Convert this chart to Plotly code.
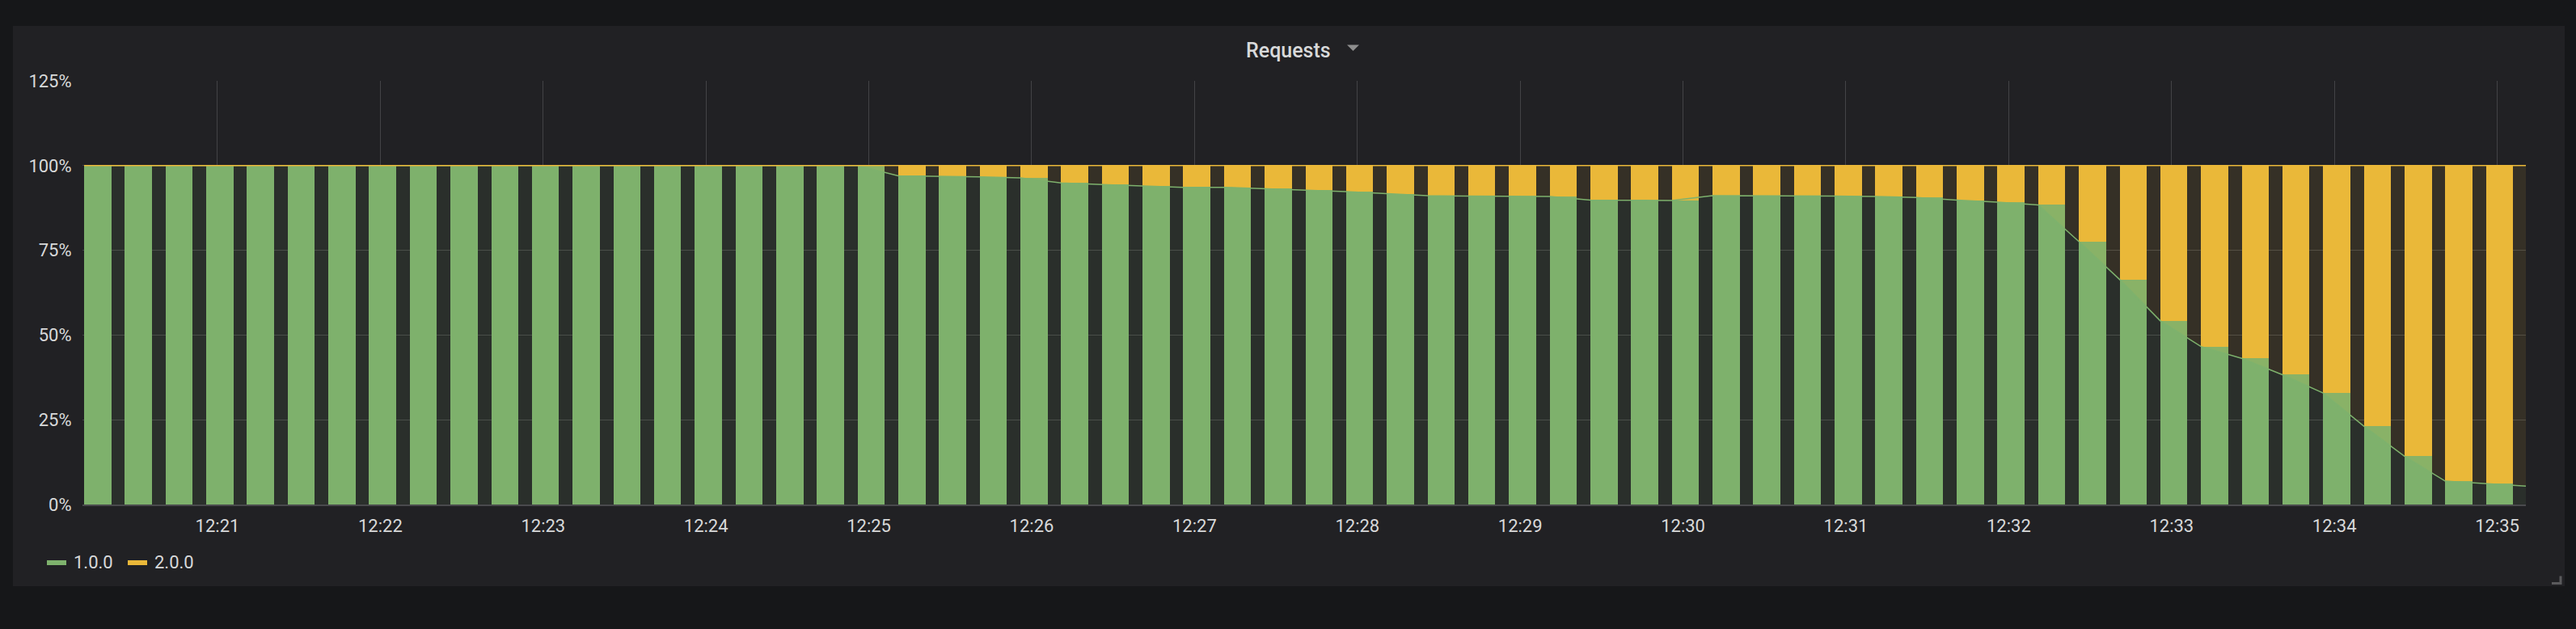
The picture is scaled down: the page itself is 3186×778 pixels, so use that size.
import pandas as pd
import plotly.graph_objects as go

# ---- data ----
series_names = ["1.0.0", "2.0.0"]
times = pd.date_range("2019-04-01 12:20:10.850", periods=61, freq="15s")
v1_0_0 = [100, 100, 100, 100, 100, 100, 100, 100, 100, 100,
          100, 100, 100, 100, 100, 100, 100, 100, 100, 100,
          97.0, 96.9, 96.7, 96.4, 94.9, 94.4, 94.0, 93.6, 93.6, 93.2,
          92.8, 92.3, 91.7, 91.1, 91.0, 91.0, 90.9, 89.8, 89.7, 89.7,
          91.1, 91.1, 91.1, 91.0, 90.9, 90.6, 89.8, 89.2, 88.4, 77.6,
          66.4, 54.2, 46.6, 43.1, 38.3, 32.9, 23.1, 14.2, 6.9, 6.2, 5.4]
v2_0_0 = [0, 0, 0, 0, 0, 0, 0, 0, 0, 0,
          0, 0, 0, 0, 0, 0, 0, 0, 0, 0,
          3.0, 3.1, 3.3, 3.6, 5.1, 5.6, 6.0, 6.4, 6.4, 6.8,
          7.2, 7.7, 8.3, 8.9, 9.0, 9.0, 9.1, 10.2, 10.3, 10.3,
          8.9, 8.9, 8.9, 9.0, 9.1, 9.4, 10.2, 10.8, 11.6, 22.4,
          33.6, 45.8, 53.4, 56.9, 61.7, 67.1, 76.9, 85.8, 93.1, 93.8, 94.6]
y_ticks = [0, 25, 50, 75, 100, 125]
y_tick_labels = ["0%", "25%", "50%", "75%", "100%", "125%"]
title_text = "Requests"

GREEN = "#7EB26D"
YELLOW = "#EAB839"
TEXT = "#d8d9da"
GRID = "#434346"

W, H = 3186, 778
ML, MR, MT, MB = 102, 62, 100, 154
PW, PH = W - ML - MR, H - MT - MB


def px(x):
    return (x - ML) / PW


def py(y):
    return (H - MB - y) / PH


fig = go.Figure()

# bars (stacked), left-aligned on each sample
for name, vals, col in [(series_names[0], v1_0_0, GREEN), (series_names[1], v2_0_0, YELLOW)]:
    fig.add_trace(go.Bar(
        x=times, y=vals, name=name, width=10000, offset=0,
        marker=dict(color=col, line=dict(width=0)),
        showlegend=False, hoverinfo="skip",
    ))

# stacked lines with light area fill (drawn over bars)
fills = {GREEN: "rgba(126,178,109,0.10)", YELLOW: "rgba(234,184,57,0.10)"}
for name, vals, col in [(series_names[0], v1_0_0, GREEN), (series_names[1], v2_0_0, YELLOW)]:
    fig.add_trace(go.Scatter(
        x=times, y=vals, name=name, mode="lines", stackgroup="one",
        line=dict(color=col, width=1.5), fillcolor=fills[col],
        showlegend=False, hoverinfo="skip",
    ))

shapes = []
# panel background
x0, x1, y0, y1 = px(16), px(3172), py(32), py(725)
shapes.append(dict(type="rect", xref="paper", yref="paper", x0=x0, x1=x1, y0=y0, y1=y1,
                   fillcolor="#212124", line=dict(width=0), layer="below"))
# dropdown triangle next to title
shapes.append(dict(type="path", xref="paper", yref="paper",
                   path=f"M {px(1666)},{py(55.5)} L {px(1681)},{py(55.5)} L {px(1673.5)},{py(63)} Z",
                   fillcolor="#8e8e8e", line=dict(width=0)))
# resize handle
shapes.append(dict(type="path", xref="paper", yref="paper",
                   path=f"M {px(3156)},{py(721.5)} L {px(3167)},{py(721.5)} L {px(3167)},{py(712.5)}",
                   line=dict(color="#5a5a5c", width=3)))
# legend swatches
for (lx, col) in [(58, GREEN), (158, YELLOW)]:
    shapes.append(dict(type="rect", xref="paper", yref="paper",
                       x0=px(lx), x1=px(lx + 24), y0=py(699), y1=py(693),
                       fillcolor=col, line=dict(width=0)))

annotations = [
    dict(text=title_text, xref="paper", yref="paper", x=px(1593), y=py(62),
         xanchor="center", yanchor="middle", showarrow=False,
         font=dict(family="Roboto", size=25, color=TEXT, weight=500)),
    dict(text=series_names[0], xref="paper", yref="paper", x=px(89), y=py(695),
         xanchor="left", yanchor="middle", showarrow=False,
         font=dict(family="Roboto", size=22, color=TEXT)),
    dict(text=series_names[1], xref="paper", yref="paper", x=px(189), y=py(695),
         xanchor="left", yanchor="middle", showarrow=False,
         font=dict(family="Roboto", size=22, color=TEXT)),
]

fig.update_layout(
    width=W, height=H, autosize=False,
    margin=dict(l=ML, r=MR, t=MT, b=MB, pad=0),
    paper_bgcolor="#161719", plot_bgcolor="#212124",
    barmode="stack", bargap=0, hovermode=False, showlegend=False,
    font=dict(family="Roboto", size=22, color=TEXT),
    shapes=shapes, annotations=annotations,
)
fig.update_xaxes(
    type="date", range=["2019-04-01 12:20:10.250", "2019-04-01 12:35:10.550"],
    tickformat="%H:%M", dtick=60000, tick0="2019-04-01 12:00:00",
    showgrid=True, gridcolor=GRID, gridwidth=1,
    showline=True, linecolor="#4a4a4d", linewidth=2,
    ticks="outside", ticklen=6, tickcolor="rgba(0,0,0,0)",
    tickfont=dict(family="Roboto", size=22, color=TEXT), zeroline=False, fixedrange=True,
)
fig.update_yaxes(
    range=[0, 125], tickmode="array", tickvals=y_ticks, ticktext=y_tick_labels,
    showgrid=True, gridcolor=GRID, gridwidth=1, zeroline=False, showline=False,
    ticks="outside", ticklen=8, tickcolor="rgba(0,0,0,0)",
    tickfont=dict(family="Roboto", size=22, color=TEXT), fixedrange=True,
)

fig.write_html(
    "out.html",
    config={"displayModeBar": False, "staticPlot": True},
    post_script="document.body.style.margin='0';document.body.style.padding='0';"
                "document.body.style.background='#161719';document.body.style.overflow='hidden';",
)
